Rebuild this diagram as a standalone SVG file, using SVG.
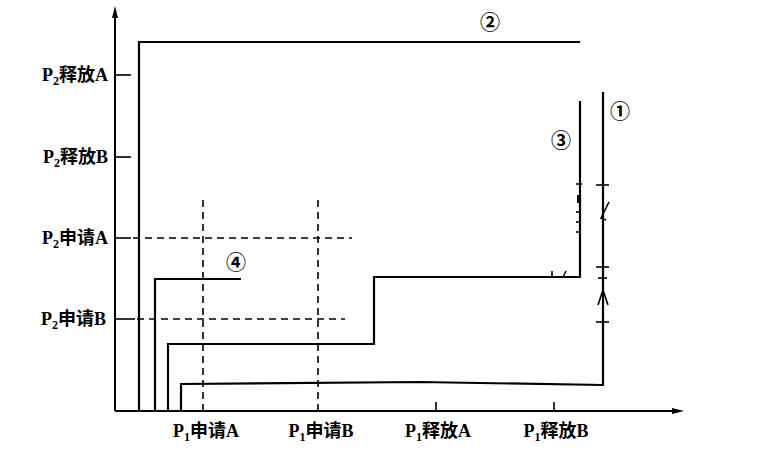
<svg xmlns="http://www.w3.org/2000/svg" width="761" height="457" viewBox="0 0 761 457">
<style>
.ax{stroke:#000;stroke-width:2;fill:none}
.p{stroke:#000;stroke-width:2.2;fill:none}
.d{stroke:#000;stroke-width:1.6;fill:none;stroke-dasharray:7 5}
.t{stroke:#000;stroke-width:1.6}
.lb{font-family:"Liberation Serif","Noto Sans CJK SC",serif;font-size:18px;font-weight:bold;fill:#000}
.sb{font-size:12px}
.n{font-family:"Noto Sans CJK SC","DejaVu Sans",sans-serif;font-size:20px;font-weight:bold;fill:#000}
</style>
<rect width="761" height="457" fill="#fff"/>
<g id="axes">
<line class="ax" x1="115" y1="411" x2="115" y2="14"/>
<polygon points="115,6 112,18 118,18" fill="#000"/>
<line class="ax" x1="115" y1="411" x2="676" y2="411"/>
<polygon points="684,411 672,408 672,414" fill="#000"/>
<line class="t" x1="115" y1="75" x2="131" y2="75"/>
<line class="t" x1="115" y1="157" x2="131" y2="157"/>
<line class="t" x1="115" y1="238" x2="131" y2="238"/>
<line class="t" x1="115" y1="319" x2="135" y2="319"/>
<line class="t" x1="436" y1="411" x2="436" y2="402"/>
<line class="t" x1="554" y1="411" x2="554" y2="402"/>
</g>
<g id="labels">
<text class="lb" x="108" y="81" text-anchor="end">P<tspan class="sb" dy="4">2</tspan><tspan dy="-4">释放A</tspan></text>
<text class="lb" x="108" y="163" text-anchor="end">P<tspan class="sb" dy="4">2</tspan><tspan dy="-4">释放B</tspan></text>
<text class="lb" x="108" y="244" text-anchor="end">P<tspan class="sb" dy="4">2</tspan><tspan dy="-4">申请A</tspan></text>
<text class="lb" x="106" y="325" text-anchor="end">P<tspan class="sb" dy="4">2</tspan><tspan dy="-4">申请B</tspan></text>
<text class="lb" x="206" y="437" text-anchor="middle">P<tspan class="sb" dy="4">1</tspan><tspan dy="-4">申请A</tspan></text>
<text class="lb" x="321" y="437" text-anchor="middle">P<tspan class="sb" dy="4">1</tspan><tspan dy="-4">申请B</tspan></text>
<text class="lb" x="438" y="437" text-anchor="middle">P<tspan class="sb" dy="4">1</tspan><tspan dy="-4">释放A</tspan></text>
<text class="lb" x="556" y="437" text-anchor="middle">P<tspan class="sb" dy="4">1</tspan><tspan dy="-4">释放B</tspan></text>
</g>
<g id="grid">
<line class="d" x1="203" y1="200" x2="203" y2="411"/>
<line class="d" x1="318" y1="200" x2="318" y2="411"/>
<line class="d" x1="133" y1="238" x2="352" y2="238"/>
<line class="d" x1="137" y1="319" x2="345" y2="319"/>
</g>
<g id="connectors">
<g id="path2">
<polyline class="p" points="139,411 139,42 580,42"/>
<text class="n" x="490" y="30" text-anchor="middle">②</text>
</g>
<g id="path4">
<polyline class="p" points="155,411 155,279 241,279"/>
<text class="n" x="236" y="270" text-anchor="middle">④</text>
</g>
<g id="path3">
<polyline class="p" points="168,411 168,344 374,344 374,277 580,277 580,101"/>
<line class="t" x1="552" y1="271" x2="552" y2="277"/>
<line class="t" x1="563" y1="277" x2="566" y2="271"/>
<line class="t" x1="576" y1="184" x2="582" y2="184"/>
<rect x="577" y="195" width="3" height="8" fill="#000"/>
<line class="t" x1="576" y1="212" x2="581" y2="212"/>
<line class="t" x1="576" y1="222" x2="581" y2="222"/>
<line class="t" x1="576" y1="232" x2="581" y2="232"/>
<text class="n" x="561" y="148" text-anchor="middle">③</text>
</g>
<g id="path1">
<polyline class="p" points="181,411 181,384 420,382 603,385 603,92"/>
<line class="t" x1="596" y1="185" x2="609" y2="185"/>
<line class="t" x1="596" y1="267" x2="609" y2="267"/>
<line class="t" x1="596" y1="322" x2="609" y2="322"/>
<polyline class="t" fill="none" points="609,202 601,218 606,220"/>
<polyline class="t" fill="none" points="598,305 603,290 608,305"/>
<line class="t" x1="598" y1="278" x2="607" y2="278"/>
<text class="n" x="620" y="119" text-anchor="middle">①</text>
</g>
</g>
</svg>
